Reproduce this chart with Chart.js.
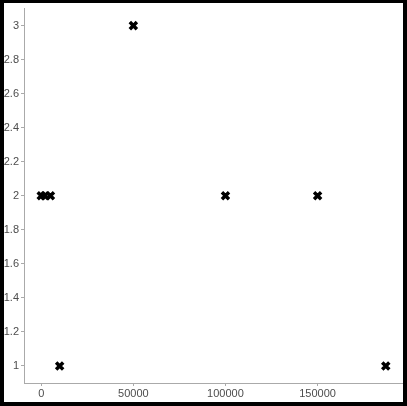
<!DOCTYPE html>
<html>
<head>
<meta charset="utf-8">
<script src="https://cdn.jsdelivr.net/npm/chart.js@4"></script>
<style>
html,body{margin:0;padding:0;background:#fff;}
#wrap{position:relative;width:407px;height:406px;}
</style>
</head>
<body>
<div id="wrap"><canvas id="c" width="407" height="406"></canvas></div>
<script>
const xValues = [0, 2000, 5000, 10000, 50000, 100000, 150000, 187000];
const yValues = [2, 2, 2, 1, 3, 2, 2, 1];
const xTicks = [0, 50000, 100000, 150000];
const yTicks = [1, 1.2, 1.4, 1.6, 1.8, 2, 2.2, 2.4, 2.6, 2.8, 3];

const points = xValues.map((x, i) => ({x: x, y: yValues[i]}));
const xMin = Math.min(...xValues), xMax = Math.max(...xValues);
const yMin = Math.min(...yValues), yMax = Math.max(...yValues);
const xPad = (xMax - xMin) * 0.05, yPad = (yMax - yMin) * 0.05;

const borderPlugin = {
  id: 'frame',
  afterDraw(chart) {
    const ctx = chart.ctx;
    ctx.save();
    ctx.fillStyle = '#000';
    ctx.fillRect(0, 0, 407, 3);
    ctx.fillRect(0, 402, 407, 4);
    ctx.fillRect(0, 0, 4, 406);
    ctx.fillRect(403, 0, 4, 406);
    ctx.restore();
  }
};

const axisGray = '#aaaaaa';
const tickFont = {family: '"Liberation Sans", Arial, sans-serif', size: 11};

new Chart(document.getElementById('c'), {
  type: 'scatter',
  data: {
    datasets: [{
      data: points,
      pointStyle: 'crossRot',
      radius: 5,
      hoverRadius: 5,
      borderWidth: 3.5,
      borderColor: '#000',
      backgroundColor: '#000'
    }]
  },
  options: {
    responsive: false,
    animation: false,
    events: [],
    layout: {autoPadding: false, padding: {top: 8, right: 4, left: 0, bottom: 0}},
    plugins: {legend: {display: false}, tooltip: {enabled: false}},
    scales: {
      x: {
        type: 'linear',
        min: xMin - xPad,
        max: xMax + xPad,
        afterBuildTicks: s => { s.ticks = xTicks.map(v => ({value: v})); },
        afterFit: s => { s.height = 23; },
        grid: {drawOnChartArea: false, drawTicks: true, tickLength: 3, color: axisGray},
        border: {display: true, color: axisGray, width: 1},
        ticks: {color: '#4d4d4d', font: tickFont, padding: 1, maxRotation: 0,
                callback: v => String(v)}
      },
      y: {
        type: 'linear',
        min: yMin - yPad,
        max: yMax + yPad,
        afterBuildTicks: s => { s.ticks = yTicks.map(v => ({value: v})); },
        afterFit: s => { s.width = 24; },
        grid: {drawOnChartArea: false, drawTicks: true, tickLength: 3, color: axisGray},
        border: {display: true, color: axisGray, width: 1},
        ticks: {color: '#4d4d4d', font: tickFont, padding: 2,
                callback: v => String(Math.round(v * 10) / 10)}
      }
    }
  },
  plugins: [borderPlugin]
});
</script>
</body>
</html>
